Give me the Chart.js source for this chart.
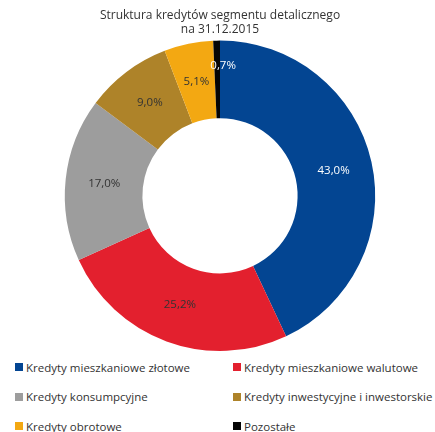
<!DOCTYPE html>
<html>
<head>
<meta charset="utf-8">
<script src="https://cdn.jsdelivr.net/npm/chart.js@4"></script>
<style>
  body { margin: 0; background: #fff; font-family: "Open Sans", sans-serif; }
  #wrap { width: 435px; height: 432px; position: relative; }
  #chartBox { position: absolute; left: 0; top: 0; width: 435px; height: 352px; }
  #legend { position: absolute; left: 15px; top: 359px; width: 420px; display: grid;
    grid-template-columns: 218px 200px; row-gap: 13.5px; font-size: 11.5px; color: #333; }
  .item { display: flex; align-items: center; height: 16px; white-space: nowrap; }
  .box { width: 8px; height: 8px; margin-right: 3px; }
</style>
</head>
<body>
<div id="wrap">
  <div id="chartBox"><canvas id="creditChart"></canvas></div>
  <div id="legend"></div>
</div>
<script>
const categories = [
  "Kredyty mieszkaniowe złotowe",
  "Kredyty mieszkaniowe walutowe",
  "Kredyty konsumpcyjne",
  "Kredyty inwestycyjne i inwestorskie",
  "Kredyty obrotowe",
  "Pozostałe",
];
const shares = [43.0, 25.2, 17.0, 9.0, 5.1, 0.7];
const colors = ["#034592", "#e3202e", "#9d9d9d", "#ae8329", "#f3a812", "#050505"];
const labelColors = ["#ffffff", "#333333", "#333333", "#333333", "#333333", "#ffffff"];
const titleLines = ["Struktura kredytów segmentu detalicznego", "na 31.12.2015"];

const formatPct = (v) => v.toFixed(1).replace(".", ",") + "%";

const sliceLabels = {
  id: "sliceLabels",
  afterDatasetsDraw: (chart) => {
    const ctx = chart.ctx;
    const meta = chart.getDatasetMeta(0);
    ctx.save();
    ctx.font = "11.5px 'Open Sans', sans-serif";
    ctx.textAlign = "center";
    ctx.textBaseline = "middle";
    meta.data.forEach((arc, i) => {
      const { x, y, startAngle, endAngle, innerRadius, outerRadius } = arc.getProps(
        ["x", "y", "startAngle", "endAngle", "innerRadius", "outerRadius"], true);
      const mid = (startAngle + endAngle) / 2;
      // tiny slice: push the label outward and a bit to the right
      const small = shares[i] < 2;
      const r = innerRadius + (outerRadius - innerRadius) * (small ? 0.68 : 0.5);
      const shift = small ? 6 : 0;
      ctx.fillStyle = labelColors[i];
      ctx.fillText(formatPct(shares[i]), x + Math.cos(mid) * r + shift, y + Math.sin(mid) * r);
    });
    ctx.restore();
  },
};

const chart = new Chart(document.getElementById("creditChart"), {
  type: "doughnut",
  data: {
    labels: categories,
    datasets: [{
      data: shares,
      backgroundColor: colors,
      borderWidth: 0,
      hoverOffset: 0,
    }],
  },
  options: {
    responsive: true,
    maintainAspectRatio: false,
    animation: false,
    cutout: "50%",
    layout: { padding: { left: 5, bottom: 1 } },
    plugins: {
      legend: { display: false },
      tooltip: { enabled: false },
      title: {
        display: true,
        text: titleLines,
        color: "#333",
        font: { family: "'Open Sans', sans-serif", size: 12, weight: "normal", lineHeight: 1.15 },
        padding: { top: 9, bottom: 4 },
      },
    },
  },
  plugins: [sliceLabels],
});

const legendEl = document.getElementById("legend");
categories.forEach((name, i) => {
  const item = document.createElement("div");
  item.className = "item";
  item.innerHTML = `<span class="box" style="background:${colors[i]}"></span><span>${name}</span>`;
  legendEl.appendChild(item);
});
</script>
</body>
</html>
